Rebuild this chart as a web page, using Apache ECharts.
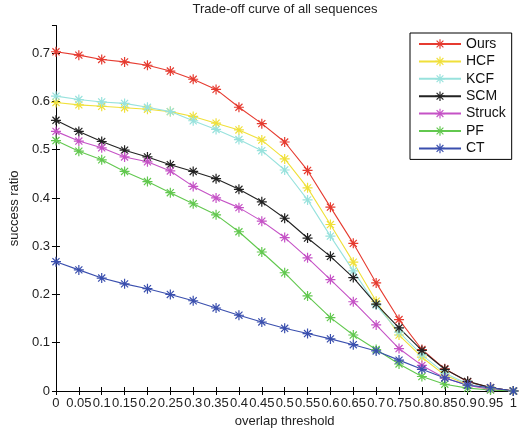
<!DOCTYPE html>
<html>
<head>
<meta charset="utf-8">
<script src="https://cdn.jsdelivr.net/npm/echarts@6/dist/echarts.min.js"></script>
<style>
html,body{margin:0;padding:0;background:#fff;}
#c{width:520px;height:433px;}
</style>
</head>
<body>
<div id="c"></div>
<script>
// ---- data ----
var thresholds = [0,0.05,0.1,0.15,0.2,0.25,0.3,0.35,0.4,0.45,0.5,0.55,0.6,0.65,0.7,0.75,0.8,0.85,0.9,0.95,1];
var yTicks = [0,0.1,0.2,0.3,0.4,0.5,0.6,0.7];
var seriesNames = ["Ours","HCF","KCF","SCM","Struck","PF","CT"];
var ours   = [0.703,0.696,0.687,0.682,0.675,0.663,0.646,0.625,0.588,0.554,0.516,0.457,0.381,0.306,0.224,0.148,0.086,0.046,0.019,0.007,0];
var hcf    = [0.598,0.593,0.590,0.587,0.584,0.579,0.569,0.555,0.541,0.520,0.481,0.421,0.345,0.267,0.186,0.116,0.070,0.033,0.013,0.004,0];
var kcf    = [0.611,0.604,0.599,0.596,0.588,0.579,0.560,0.542,0.521,0.498,0.458,0.396,0.321,0.249,0.178,0.122,0.075,0.037,0.015,0.004,0];
var scm    = [0.561,0.538,0.517,0.499,0.485,0.469,0.455,0.440,0.418,0.392,0.358,0.317,0.279,0.235,0.180,0.131,0.084,0.045,0.020,0.007,0];
var struck = [0.538,0.518,0.504,0.485,0.475,0.456,0.424,0.400,0.380,0.352,0.318,0.276,0.231,0.185,0.137,0.088,0.053,0.027,0.012,0.003,0];
var pf     = [0.519,0.497,0.479,0.455,0.434,0.411,0.388,0.365,0.330,0.288,0.245,0.197,0.152,0.116,0.086,0.056,0.030,0.014,0.006,0.002,0];
var ct     = [0.268,0.251,0.234,0.222,0.212,0.200,0.187,0.172,0.157,0.143,0.130,0.119,0.108,0.096,0.083,0.064,0.045,0.027,0.012,0.007,0];
var allValues = [ours,hcf,kcf,scm,struck,pf,ct];
var colors = ["#e63b30","#f0e03a","#98e2dd","#222222","#c552c6","#62c84f","#3a4fae"];

// asterisk marker (MATLAB '*')
var star = 'path://M-5,-0.6L5,-0.6L5,0.6L-5,0.6Z' +
  'M-0.6,-5L0.6,-5L0.6,5L-0.6,5Z' +
  'M-3.12,-3.96L3.96,3.12L3.12,3.96L-3.96,-3.12Z' +
  'M-3.96,3.12L3.12,-3.96L3.96,-3.12L-3.12,3.96Z';

var FONT = '"Liberation Sans", Arial, Helvetica, sans-serif';
var fmt = function(v){ return String(+(+v).toFixed(2)); };

var series = seriesNames.map(function(name, i){
  return {
    name: name,
    type: 'line',
    xAxisIndex: 0, yAxisIndex: 0,
    data: thresholds.map(function(t, k){ return [t, allValues[i][k]]; }),
    symbol: star,
    symbolSize: 10,
    showAllSymbol: true,
    lineStyle: {color: colors[i], width: 1.1},
    itemStyle: {color: colors[i]},
    animation: false,
    emphasis: {disabled: true}
  };
});

var axisCommon = {
  axisLine: {show: true, lineStyle: {color: '#000', width: 1}},
  axisTick: {show: true, inside: true, length: 4, lineStyle: {color: '#000'}},
  splitLine: {show: false}
};

var option = {
  backgroundColor: '#fff',
  animation: false,
  color: colors,
  title: {
    text: 'Trade-off curve of all sequences',
    left: 285, top: 3, padding: 0, textAlign: 'center',
    textStyle: {fontFamily: FONT, fontSize: 13, fontWeight: 'normal', color: '#222'}
  },
  grid: {left: 52.5, right: 3.5, top: 25.7, bottom: 40},
  legend: {
    orient: 'vertical',
    left: 410, top: 33,
    itemWidth: 42, itemHeight: 12, itemGap: 3.4,
    padding: [4, 6, 4, 8],
    backgroundColor: '#fff',
    borderColor: '#000', borderWidth: 1, borderRadius: 0,
    textStyle: {fontFamily: FONT, fontSize: 14, color: '#111'},
    data: seriesNames
  },
  xAxis: [
    Object.assign({}, axisCommon, {
      type: 'value', min: 0, max: 1, interval: 0.05, position: 'bottom',
      name: 'overlap threshold', nameLocation: 'middle', nameGap: 24,
      nameTextStyle: {fontFamily: FONT, fontSize: 13, color: '#222'},
      axisLabel: {fontFamily: FONT, fontSize: 13, color: '#222', margin: 6, formatter: fmt, hideOverlap: false}
    }),
    Object.assign({}, axisCommon, {
      type: 'value', min: 0, max: 1, interval: 0.05, position: 'top',
      axisLabel: {show: false}
    })
  ],
  yAxis: [
    Object.assign({}, axisCommon, {
      type: 'value', min: yTicks[0], max: 0.757, interval: 0.1, position: 'left',
      name: 'success ratio', nameLocation: 'middle', nameGap: 33,
      nameTextStyle: {fontFamily: FONT, fontSize: 13, color: '#222'},
      axisLabel: {fontFamily: FONT, fontSize: 13, color: '#222', margin: 6, formatter: fmt, showMaxLabel: false}
    }),
    Object.assign({}, axisCommon, {
      type: 'value', min: 0, max: 0.757, interval: 0.1, position: 'right',
      axisLabel: {show: false}
    })
  ],
  series: series
};

var chart = echarts.init(document.getElementById('c'), null, {renderer: 'canvas'});
chart.setOption(option);
</script>
</body>
</html>
